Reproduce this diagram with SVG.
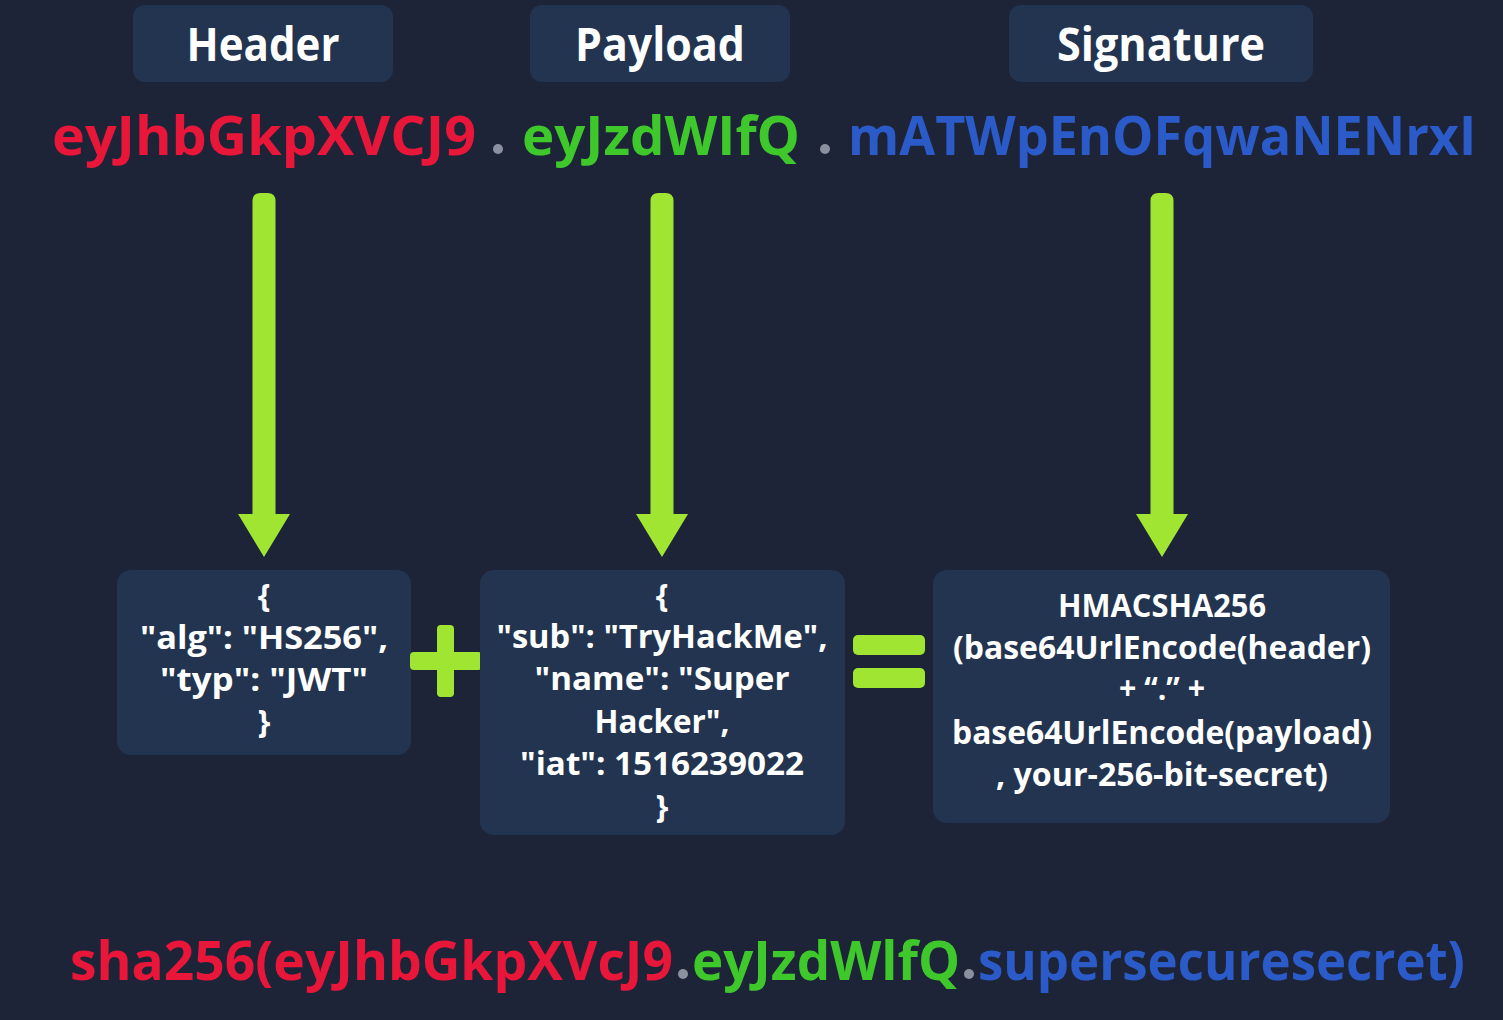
<svg xmlns="http://www.w3.org/2000/svg" width="1503" height="1020" viewBox="0 0 1503 1020">
<defs>
<style>
.bg{fill:#1e2438}
.box{fill:#22344f}
.lbl{font-family:"Open Sans","Liberation Sans",sans-serif;font-weight:700;fill:#ffffff;text-anchor:middle}
.tok{font-family:"Open Sans","Liberation Sans",sans-serif;font-weight:700;font-size:54px}
.red{fill:#e8173a}
.grn{fill:#3ec82c}
.blu{fill:#2b5bc9}
.dot{fill:#8a90a0}
.code{font-family:"Open Sans","Liberation Sans",sans-serif;font-weight:700;font-size:32px;fill:#ffffff;text-anchor:middle}
.lime{fill:#a0e532}
</style>
<path id="arrowShape" d="M-11.5,8 Q-11.5,0 -3.5,0 L3.5,0 Q11.5,0 11.5,8 L11.5,321 L26,321 L0,364 L-26,321 L-11.5,321 Z"/>
</defs>
<rect class="bg" x="0" y="0" width="1503" height="1020"/>

<g id="header-label">
<rect class="box" x="133" y="5" width="260" height="77" rx="12"/>
<text class="lbl" x="263" y="61" font-size="46" textLength="153" lengthAdjust="spacingAndGlyphs">Header</text>
</g>
<g id="payload-label">
<rect class="box" x="530" y="5" width="260" height="77" rx="12"/>
<text class="lbl" x="660" y="61" font-size="46" textLength="170" lengthAdjust="spacingAndGlyphs">Payload</text>
</g>
<g id="signature-label">
<rect class="box" x="1009" y="5" width="304" height="77" rx="12"/>
<text class="lbl" x="1161" y="61" font-size="46" textLength="208" lengthAdjust="spacingAndGlyphs">Signature</text>
</g>

<g id="token">
<text class="tok red" x="52" y="155" textLength="424" lengthAdjust="spacingAndGlyphs">eyJhbGkpXVCJ9</text>
<circle class="dot" cx="498" cy="149" r="5"/>
<text class="tok grn" x="522" y="155" textLength="278" lengthAdjust="spacingAndGlyphs">eyJzdWIfQ</text>
<circle class="dot" cx="825" cy="149" r="5"/>
<text class="tok blu" transform="translate(848,155) scale(0.9,1)" x="0" y="0" textLength="698" lengthAdjust="spacingAndGlyphs">mATWpEnOFqwaNENrxI</text>
</g>

<g id="connectors">
<use href="#arrowShape" class="lime" x="264" y="193"/>
<use href="#arrowShape" class="lime" x="662" y="193"/>
<use href="#arrowShape" class="lime" x="1162" y="193"/>
</g>

<g id="header-json">
<rect class="box" x="117" y="570" width="294" height="185" rx="14"/>
<text class="code" x="264" y="607">{</text>
<text class="code" x="264" y="649" textLength="248" lengthAdjust="spacingAndGlyphs">"alg": "HS256",</text>
<text class="code" x="264" y="691" textLength="208" lengthAdjust="spacingAndGlyphs">"typ": "JWT"</text>
<text class="code" x="264" y="733">}</text>
</g>

<g id="plus">
<rect class="lime" x="437" y="625" width="17" height="72" rx="4"/>
<rect class="lime" x="410" y="652" width="72" height="18" rx="4"/>
</g>

<g id="payload-json">
<rect class="box" x="480" y="570" width="365" height="265" rx="14"/>
<text class="code" x="662" y="607">{</text>
<text class="code" x="662" y="648" textLength="331" lengthAdjust="spacingAndGlyphs">"sub": "TryHackMe",</text>
<text class="code" x="662" y="690" textLength="255" lengthAdjust="spacingAndGlyphs">"name": "Super</text>
<text class="code" x="662" y="733" textLength="135" lengthAdjust="spacingAndGlyphs">Hacker",</text>
<text class="code" x="662" y="775" textLength="284" lengthAdjust="spacingAndGlyphs">"iat": 1516239022</text>
<text class="code" x="662" y="818">}</text>
</g>

<g id="equals">
<rect class="lime" x="853" y="635" width="72" height="20" rx="5"/>
<rect class="lime" x="853" y="668" width="72" height="20" rx="5"/>
</g>

<g id="signature-formula">
<rect class="box" x="933" y="570" width="457" height="253" rx="14"/>
<text class="code" x="1162" y="617" textLength="208" lengthAdjust="spacingAndGlyphs">HMACSHA256</text>
<text class="code" x="1162" y="659" textLength="418" lengthAdjust="spacingAndGlyphs">(base64UrlEncode(header)</text>
<text class="code" x="1162" y="700" textLength="86" lengthAdjust="spacingAndGlyphs">+ “.” +</text>
<text class="code" x="1162" y="744" textLength="420" lengthAdjust="spacingAndGlyphs">base64UrlEncode(payload)</text>
<text class="code" x="1162" y="786" textLength="332" lengthAdjust="spacingAndGlyphs">, your-256-bit-secret)</text>
</g>

<g id="hash-line">
<text class="tok red" x="70" y="980" textLength="603" lengthAdjust="spacingAndGlyphs">sha256(eyJhbGkpXVcJ9</text>
<circle class="dot" cx="683" cy="974" r="5"/>
<text class="tok grn" x="692" y="980" textLength="268" lengthAdjust="spacingAndGlyphs">eyJzdWlfQ</text>
<circle class="dot" cx="969" cy="974" r="5"/>
<text class="tok blu" transform="translate(978,980) scale(0.9,1)" x="0" y="0" textLength="541" lengthAdjust="spacingAndGlyphs">supersecuresecret)</text>
</g>
</svg>
